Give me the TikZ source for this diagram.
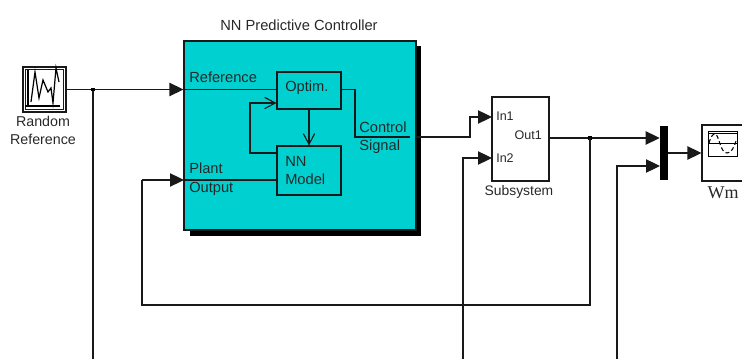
\documentclass[tikz,border=0pt]{standalone}
\usepackage{fontspec}
\setmainfont{Liberation Sans}
\newfontfamily\wmfont{Liberation Serif}
\usetikzlibrary{arrows.meta}
\definecolor{nncyan}{RGB}{0,208,208}
\definecolor{inktext}{RGB}{40,40,40}
\tikzset{
  sig/.style={line width=0.85pt,draw=black!90},
  solidtip/.style={-{Triangle[length=10.5pt,width=10pt]}},
  opentip/.style={-{Straight Barb[length=8pt,width=8.5pt]}},
  blk/.style={draw=black!90,line width=0.8pt,inner sep=0pt,fill=white},
  lbl/.style={inner sep=0pt,text=inktext,yshift=-0.9pt,font=\fontsize{11}{13}\selectfont},
  lblleft/.style={lbl,anchor=base west},
  lblmid/.style={lbl,anchor=base},
  portlbl/.style={font=\fontsize{9.4}{11}\selectfont},
  dotj/.style={fill=black,inner sep=0pt,minimum size=2.6pt,draw=none}
}
\begin{document}
\begin{tikzpicture}[x=0.75pt,y=-0.75pt]
\useasboundingbox (0,0) rectangle (742,359);
% shadow and main block
\node[fill=black,inner sep=0pt,minimum width=231*0.75pt,minimum height=190*0.75pt] (shadow) at (305.5,141) {};
\node[blk,fill=nncyan,minimum width=232*0.75pt,minimum height=189*0.75pt] (nn) at (300,135.5) {};
\node[lblmid] (title) at (299,29) {NN Predictive Controller};
% source
\node[blk,minimum width=43*0.75pt,minimum height=45*0.75pt] (rr) at (44.5,89.5) {};
\draw[line width=0.6pt,draw=black!90] (25,69.5) rectangle (63.5,109.5);
\draw[line width=0.9pt] (28,70) -- (28,106) (25,106) -- (60,106);
\draw[line width=0.9pt] (31,102) -- (35,72) -- (39,98) -- (43,80) -- (48,92) -- (51,88) -- (53,103) -- (56,68) -- (59,82);
\node[lblmid,font=\fontsize{10.7}{13}\selectfont] (rrA) at (43,125) {Random};
\node[lblmid,font=\fontsize{10.7}{13}\selectfont] (rrB) at (43,143) {Reference};
% inner blocks
\node[blk,fill=nncyan,minimum width=64*0.75pt,minimum height=37*0.75pt] (opt) at (309,90.5) {};
\node[blk,fill=nncyan,minimum width=64*0.75pt,minimum height=49*0.75pt] (model) at (309,170.5) {};
\node[lblleft] at (285,90) {Optim.};
\node[lblleft] at (285,165) {NN};
\node[lblleft] at (285,183) {Model};
\node[lblleft] at (189,81) {Reference};
\node[lblleft] at (189,172) {Plant};
\node[lblleft] at (189,191) {Output};
\node[lblleft] at (359,131) {Control};
\node[lblleft] at (359,149) {Signal};
% subsystem
\node[blk,minimum width=57*0.75pt,minimum height=84*0.75pt] (sub) at (520.5,139) {};
\node[lblleft,portlbl] at (496,119) {In1};
\node[lblleft,portlbl] at (496,161) {In2};
\node[lbl,portlbl,anchor=base east] at (542,138) {Out1};
\node[lblmid,font=\fontsize{10.4}{13}\selectfont] (subl) at (519,194) {Subsystem};
% mux and scope
\node[fill=black,inner sep=0pt,minimum width=8*0.75pt,minimum height=54*0.75pt] (mux) at (664,153) {};
\node[blk,minimum width=60*0.75pt,minimum height=56*0.75pt] (wm) at (732,153) {};
\node[lbl,anchor=base,font=\wmfont\fontsize{13.5}{15}\selectfont] (wml) at (723,197) {Wm};
\draw[line width=0.7pt] (708.5,131) rectangle (737,156);
\draw[line width=0.7pt] (708.5,133.5) -- (737,133.5) (708.5,143) -- (737,143);
\draw[line width=0.8pt,densely dashed] (709,143) .. controls (711,136) and (713,134) .. (715,134) .. controls (719,134) and (720,153) .. (727,153) .. controls (731,153) and (734,148) .. (736,141);
% named ports
\coordinate (srcout) at (rr.east);
\coordinate (jA) at (93,89.5);
\coordinate (refin) at (nn.west |- srcout);
\coordinate (optin) at (opt.west |- srcout);
\coordinate (plantin) at (184,180);
\coordinate (modelin) at (model.west |- plantin);
\coordinate (ctlA) at (355,89.5);
\coordinate (ctlB) at (355,137);
\coordinate (ctlC) at (410,137);
\coordinate (ctlD) at (415,137);
\coordinate (ctlE) at (470,137);
\coordinate (ctlF) at (470,117);
\coordinate (inA) at (492,117);
\coordinate (inB) at (492,158);
\coordinate (inBb) at (463,158);
\coordinate (inBc) at (463,359);
\coordinate (outA) at (sub.east |- 0,138);
\coordinate (jB) at (590,138);
\coordinate (muxA) at (mux.west |- jB);
\coordinate (muxB) at (660,166);
\coordinate (muxBb) at (617,166);
\coordinate (muxBc) at (617,359);
\coordinate (fbA) at (590,305);
\coordinate (fbB) at (142,305);
\coordinate (fbC) at (142,180);
\coordinate (jAdown) at (93,359);
% connectors
\draw[sig,solidtip] (srcout) -- (refin);
\draw[sig] (refin) -- (optin);
\draw[sig] (jA) -- (jAdown);
\node[dotj] (jAd) at (jA) {};
\draw[sig,solidtip] (fbC) -- (plantin);
\draw[sig] (plantin) -- (modelin);
\draw[sig] (opt.east |- srcout) -- (ctlA) -- (ctlB) -- (ctlC);
\draw[sig,solidtip] (ctlD) -- (ctlE) -- (ctlF) -- (inA);
\draw[sig,solidtip] (inBc) -- (inBb) -- (inB);
\draw[sig,solidtip] (outA) -- (muxA);
\node[dotj] (jBd) at (jB) {};
\draw[sig] (jB) -- (fbA) -- (fbB) -- (fbC);
\draw[sig,solidtip] (muxBc) -- (muxBb) -- (muxB);
\draw[sig,solidtip] (mux.east) -- (wm.west);
\draw[sig,opentip] (opt.south) -- (model.north);
\coordinate (loopA) at (model.west |- 0,153);
\coordinate (loopB) at (250,153);
\coordinate (loopC) at (250,103);
\coordinate (loopD) at (opt.west |- loopC);
\draw[sig,opentip] (loopA) -- (loopB) -- (loopC) -- (loopD);
\end{tikzpicture}
\end{document}
